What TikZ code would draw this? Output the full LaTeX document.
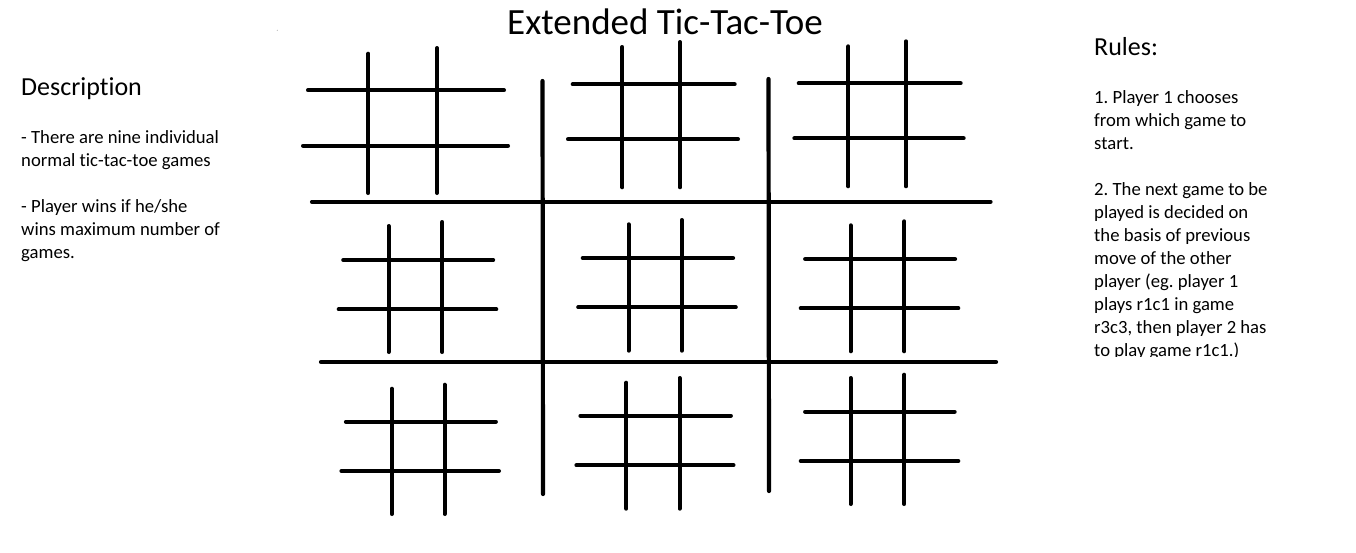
\documentclass[tikz,border=0pt]{standalone}
\usepackage{fontspec}
\setmainfont{Carlito}[Ligatures={NoCommon}]
\frenchspacing
\begin{document}
\begin{tikzpicture}[x=1pt,y=-1pt,
  gline/.style={line width=4pt,line cap=round,black},
  mline/.style={line width=4.2pt,line cap=round,black},
  txt/.style={anchor=base west,inner sep=0pt,font=\fontsize{18.67}{23}\selectfont\frenchspacing},
  head/.style={anchor=base west,inner sep=0pt,font=\fontsize{26}{30}\selectfont},
  ttl/.style={anchor=base west,inner sep=0pt,font=\fontsize{37}{42}\selectfont}]
\useasboundingbox[fill=white] (0,0) rectangle (1356,552);
% title
\node[ttl] (title) at (507,34) {Extended Tic-Tac-Toe};
\fill[gray!60] (277.3,30.3) circle (0.6pt);
% description
\node[head] (desc) at (21,95) {Description};
\node[txt] (d1) at (21,143.3) {- There are nine individual};
\node[txt] (d2) at (21,166.3) {normal tic-tac-toe games};
\node[txt] (d3) at (21,212.3) {- Player wins if he/she};
\node[txt] (d4) at (21,235.3) {wins maximum number of};
\node[txt] (d5) at (21,258.3) {games.};
% rules
\node[head] (rules) at (1094,55) {Rules:};
\begin{scope}
\clip (1080,0) rectangle (1356,356.5);
\node[txt] (r1) at (1094,103.3) {1. Player 1 chooses};
\node[txt] (r2) at (1094,126.3) {from which game to};
\node[txt] (r3) at (1094,149.3) {start.};
\node[txt] (r4) at (1094,195.3) {2. The next game to be};
\node[txt] (r5) at (1094,218.3) {played is decided on};
\node[txt] (r6) at (1094,241.3) {the basis of previous};
\node[txt] (r7) at (1094,264.3) {move of the other};
\node[txt] (r8) at (1094,287.3) {player (eg. player 1};
\node[txt] (r9) at (1094,310.3) {plays r1c1 in game};
\node[txt] (r10) at (1094,333.3) {r3c3, then player 2 has};
\node[txt] (r11) at (1094,356.3) {to play game r1c1.)};
\end{scope}
% main grid
\draw[mline] (312,201.7) -- (990.5,201.7);
\draw[mline] (321,362) -- (996,362);
\draw[mline] (542.5,81) -- (543,494);
\draw[mline] (768.5,79) -- (769,491);
% board 1
\draw[gline] (368.3,53.7) -- (368.3,193);
\draw[gline] (437,48) -- (437,193);
\draw[gline] (308,90.3) -- (504,90.3);
\draw[gline] (303,145.7) -- (508,145.7);
% board 2
\draw[gline] (622.3,47) -- (622.3,187.3);
\draw[gline] (680,42) -- (680,187.3);
\draw[gline] (572.7,84.3) -- (734.7,84.3);
\draw[gline] (568,139.3) -- (738,139.3);
% board 3
\draw[gline] (848.3,46.3) -- (848.3,186.3);
\draw[gline] (906,41.3) -- (906,186.3);
\draw[gline] (798.7,83.3) -- (960.7,83.3);
\draw[gline] (794.3,138.3) -- (963.7,138.3);
% board 4
\draw[gline] (388.6,226) -- (388.6,352);
\draw[gline] (442.3,222) -- (442.3,352);
\draw[gline] (343.2,260) -- (493.2,260);
\draw[gline] (338.7,309.3) -- (496.3,309.3);
% board 5
\draw[gline] (628.6,224.3) -- (628.6,350.7);
\draw[gline] (681.8,220) -- (681.8,350.7);
\draw[gline] (582.7,258) -- (733.1,258);
\draw[gline] (578.2,307.3) -- (735.8,307.3);
% board 6
\draw[gline] (850.6,225.3) -- (850.6,351.3);
\draw[gline] (904.3,221.3) -- (904.3,351.3);
\draw[gline] (805.1,259) -- (955.1,259);
\draw[gline] (800.7,308.3) -- (958.3,308.3);
% board 7
\draw[gline] (391.8,388.7) -- (391.8,514);
\draw[gline] (444.6,384.7) -- (444.6,514);
\draw[gline] (345.9,421.7) -- (495.9,421.7);
\draw[gline] (341.4,471) -- (499,471);
% board 8
\draw[gline] (626.3,382.7) -- (626.3,508.7);
\draw[gline] (679.6,378) -- (679.6,508.7);
\draw[gline] (580.4,415.7) -- (730.9,415.7);
\draw[gline] (576.4,465.3) -- (733.5,465.3);
% board 9
\draw[gline] (850.6,378) -- (850.6,504);
\draw[gline] (904.3,374.7) -- (904.3,504);
\draw[gline] (805.1,411.7) -- (954.7,411.7);
\draw[gline] (800.7,461) -- (958.3,461);
\end{tikzpicture}
\end{document}
